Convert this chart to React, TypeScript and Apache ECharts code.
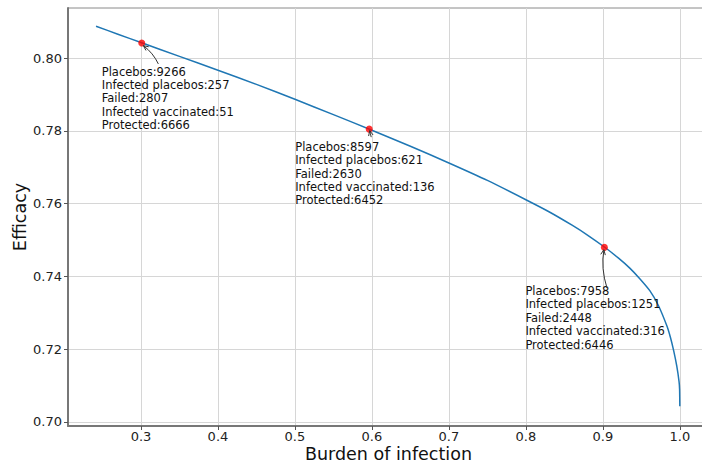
import React, { useEffect, useRef } from "react";
import * as echarts from "echarts";

// Curve
const burden = [0.2416, 0.27, 0.3, 0.35, 0.4, 0.45, 0.5, 0.55, 0.6, 0.65, 0.7, 0.75, 0.8, 0.83, 0.86, 0.88, 0.902, 0.92, 0.935, 0.948, 0.961, 0.972, 0.983, 0.988, 0.992, 0.996, 0.999, 0.9997, 1.0];
const efficacy = [0.8088, 0.8066, 0.8043, 0.8005, 0.7967, 0.7928, 0.7887, 0.7845, 0.7802, 0.7758, 0.7712, 0.7664, 0.7611, 0.7578, 0.7541, 0.7514, 0.7481, 0.7451, 0.7423, 0.7394, 0.7361, 0.7321, 0.7265, 0.7231, 0.7196, 0.7154, 0.7111, 0.709, 0.7043];

// Highlighted points
const markedBurden = [0.301, 0.5965, 0.902];
const markedEfficacy = [0.8042, 0.7805, 0.748];
const placebos = [9266, 8597, 7958];
const infectedPlacebos = [257, 621, 1251];
const failed = [2807, 2630, 2448];
const infectedVaccinated = [51, 136, 316];
const protectedCounts = [6666, 6452, 6446];

// Ticks
const xTicks = [0.3, 0.4, 0.5, 0.6, 0.7, 0.8, 0.9, 1.0];
const yTicks = [0.7, 0.72, 0.74, 0.76, 0.78, 0.8];

// Annotation layout (pixel offsets from each marked point)
const labelOffsets = [
  [-40, 22],
  [-74, 11],
  [-79, 37],
];
const arrowGeom = [
  { start: [16.6, 21], ctrl: [11.4, 10], end: [1.6, 2.7] },
  { start: [2, 8], ctrl: [1.2, 4.5], end: [0.5, 1.5] },
  { start: [2.6, 40.7], ctrl: [-3.7, 20.7], end: [-0.5, 2.4] },
];

const FONT = '"DejaVu Sans", "Liberation Sans", sans-serif';

export default function App() {
  const ref = useRef<HTMLDivElement>(null);
  useEffect(() => {
    if (!ref.current) return;
    const chart = echarts.init(ref.current, undefined, { renderer: "svg" });
    const curve = burden.map((x, i) => [x, efficacy[i]]);
    const marks = markedBurden.map((x, i) => [x, markedEfficacy[i]]);
    const texts = markedBurden.map(
      (_, i) =>
        `Placebos:${placebos[i]}\nInfected placebos:${infectedPlacebos[i]}\nFailed:${failed[i]}\nInfected vaccinated:${infectedVaccinated[i]}\nProtected:${protectedCounts[i]}`
    );
    chart.setOption({
      animation: false,
      backgroundColor: "#ffffff",
      grid: {
        left: 68,
        top: 8,
        right: -7,
        bottom: 37,
        show: true,
        borderColor: "#8a8a8a",
        borderWidth: 1,
        containLabel: false,
        outerBoundsMode: "none",
      },
      xAxis: {
        type: "value",
        min: 0.2052,
        max: 1.0379,
        name: "Burden of infection",
        nameLocation: "middle",
        nameGap: 19,
        nameMoveOverlap: false,
        nameTextStyle: { fontSize: 17.5, lineHeight: 17, color: "#111", fontFamily: FONT, verticalAlign: "top" },
        axisLine: { show: true, onZero: false, lineStyle: { color: "#777", width: 2 } },
        axisTick: { show: true, length: 4, customValues: xTicks, lineStyle: { color: "#555", width: 1 } },
        axisLabel: {
          customValues: xTicks,
          formatter: (v: number) => v.toFixed(1),
          fontSize: 13,
          lineHeight: 13,
          color: "#222",
          fontFamily: FONT,
          margin: 4,
        },
        splitLine: { show: true, lineStyle: { color: "#d6d6d6", width: 1 } },
      },
      yAxis: {
        type: "value",
        min: 0.6989,
        max: 0.8138,
        name: "Efficacy",
        nameLocation: "middle",
        nameGap: 39,
        nameMoveOverlap: false,
        nameTextStyle: { fontSize: 17.5, color: "#111", fontFamily: FONT },
        axisLine: { show: true, onZero: false, lineStyle: { color: "#777", width: 2 } },
        axisTick: { show: true, length: 4, customValues: yTicks, lineStyle: { color: "#555", width: 1 } },
        axisLabel: {
          customValues: yTicks,
          formatter: (v: number) => v.toFixed(2),
          fontSize: 13,
          color: "#222",
          fontFamily: FONT,
          margin: 6,
        },
        splitLine: { show: true, lineStyle: { color: "#d6d6d6", width: 1 } },
      },
      series: [
        {
          type: "line",
          data: curve,
          showSymbol: false,
          smooth: 0.2,
          lineStyle: { color: "#1f77b4", width: 1.5 },
          z: 2,
        },
        {
          type: "scatter",
          data: marks,
          symbol: "circle",
          symbolSize: 7,
          itemStyle: { color: "#ff0000" },
          z: 3,
        },
        {
          type: "custom",
          data: marks,
          z: 4,
          clip: false,
          renderItem: (params: any, api: any) => {
            const i = params.dataIndex;
            const p = api.coord([api.value(0), api.value(1)]);
            const g = arrowGeom[i];
            const s = [p[0] + g.start[0], p[1] + g.start[1]];
            const c = [p[0] + g.ctrl[0], p[1] + g.ctrl[1]];
            const e = [p[0] + g.end[0], p[1] + g.end[1]];
            let dx = e[0] - c[0];
            let dy = e[1] - c[1];
            const len = Math.hypot(dx, dy) || 1;
            dx /= len;
            dy /= len;
            const hl = 5;
            const hw = 2.3;
            const b = [e[0] - dx * hl, e[1] - dy * hl];
            const left = [b[0] - dy * hw, b[1] + dx * hw];
            const right = [b[0] + dy * hw, b[1] - dx * hw];
            return {
              type: "group",
              children: [
                {
                  type: "text",
                  style: {
                    text: texts[i],
                    x: p[0] + labelOffsets[i][0],
                    y: p[1] + labelOffsets[i][1],
                    fontSize: 11.5,
                    fontFamily: FONT,
                    fill: "#111",
                    lineHeight: 13.4,
                    align: "left",
                    verticalAlign: "top",
                  },
                },
                {
                  type: "bezierCurve",
                  shape: { x1: s[0], y1: s[1], x2: e[0], y2: e[1], cpx1: c[0], cpy1: c[1] },
                  style: { stroke: "#333", lineWidth: 1, fill: null },
                },
                {
                  type: "polyline",
                  shape: { points: [left, e, right] },
                  style: { stroke: "#333", lineWidth: 1, fill: null },
                },
              ],
            };
          },
        },
      ],
    });
    return () => chart.dispose();
  }, []);
  return <div ref={ref} style={{ width: 702, height: 463, position: "absolute", left: 0, top: 0 }} />;
}
